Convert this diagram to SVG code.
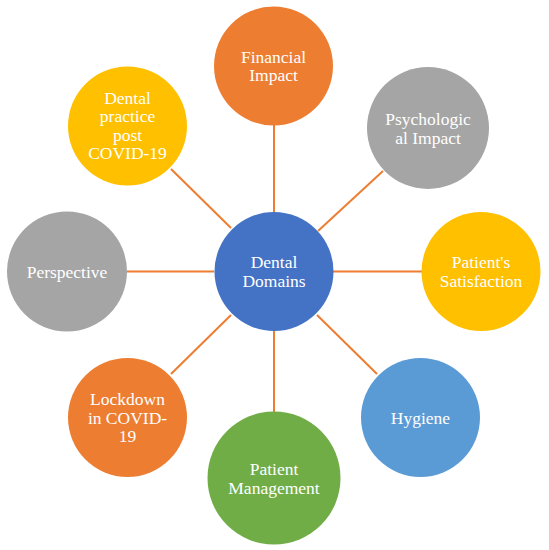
<svg xmlns="http://www.w3.org/2000/svg" width="549" height="550" viewBox="0 0 549 550">
<style>
.c{stroke:none}
.t{font-family:"Times New Roman",Tinos,"Liberation Serif","Noto Serif","DejaVu Serif",FreeSerif,Georgia,serif;font-size:17.5px;fill:#fff;text-anchor:middle}
.e{stroke:#ED7D31;stroke-width:2;fill:none}
</style>
<rect width="549" height="550" fill="#fff"/>
<g id="connectors">
<line class="e" x1="274" y1="125" x2="274" y2="212"/>
<line class="e" x1="383" y1="171" x2="318" y2="231"/>
<line class="e" x1="333" y1="271.5" x2="422" y2="271.5"/>
<line class="e" x1="317" y1="315" x2="377" y2="374"/>
<line class="e" x1="274" y1="331" x2="274" y2="412"/>
<line class="e" x1="231" y1="315" x2="171" y2="374"/>
<line class="e" x1="127" y1="271.5" x2="214" y2="271.5"/>
<line class="e" x1="171" y1="169" x2="231" y2="228"/>
</g>
<g id="center"><circle class="c" cx="274" cy="271.5" r="59.5" fill="#4472C4"/><text class="t"><tspan x="274" y="268">Dental</tspan><tspan x="274" y="286.5">Domains</tspan></text></g>
<g id="financial"><circle class="c" cx="273.5" cy="66" r="59.5" fill="#ED7D31"/><text class="t"><tspan x="273.5" y="62.5">Financial</tspan><tspan x="273.5" y="81">Impact</tspan></text></g>
<g id="psychological"><circle class="c" cx="428" cy="128" r="61" fill="#A5A5A5"/><text class="t"><tspan x="428" y="125">Psychologic</tspan><tspan x="428" y="143.5">al Impact</tspan></text></g>
<g id="satisfaction"><circle class="c" cx="481" cy="271.5" r="59.5" fill="#FFC000"/><text class="t"><tspan x="481" y="268">Patient's</tspan><tspan x="481" y="286.5">Satisfaction</tspan></text></g>
<g id="hygiene"><circle class="c" cx="420.5" cy="417.5" r="59.5" fill="#5B9BD5"/><text class="t" x="420.5" y="423.5">Hygiene</text></g>
<g id="management"><circle class="c" cx="274" cy="478" r="66.5" fill="#70AD47"/><text class="t"><tspan x="274" y="475">Patient</tspan><tspan x="274" y="493.5">Management</tspan></text></g>
<g id="lockdown"><circle class="c" cx="127.5" cy="417.5" r="59.5" fill="#ED7D31"/><text class="t"><tspan x="127.5" y="405">Lockdown</tspan><tspan x="127.5" y="423.5">in COVID-</tspan><tspan x="127.5" y="442">19</tspan></text></g>
<g id="perspective"><circle class="c" cx="67" cy="271.5" r="60" fill="#A5A5A5"/><text class="t" x="67" y="277.5">Perspective</text></g>
<g id="practice"><circle class="c" cx="127.5" cy="126" r="59.5" fill="#FFC000"/><text class="t"><tspan x="127.5" y="103.5">Dental</tspan><tspan x="127.5" y="122">practice</tspan><tspan x="127.5" y="140.5">post</tspan><tspan x="127.5" y="159">COVID-19</tspan></text></g>
</svg>
